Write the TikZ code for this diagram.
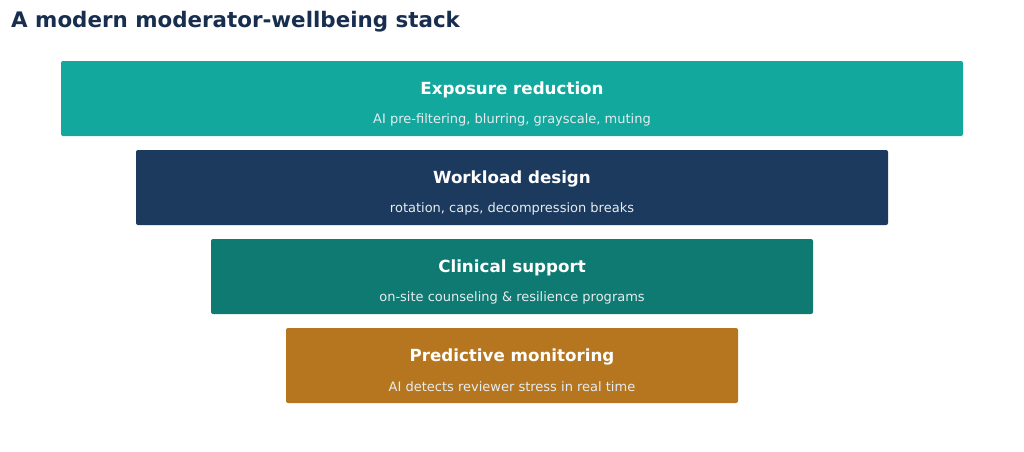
\documentclass[tikz,border=0pt]{standalone}
\usepackage{fontspec}
\setmainfont{DejaVu Sans}
\definecolor{titlec}{HTML}{172E4E}
\definecolor{c1}{HTML}{13A89E}
\definecolor{c2}{HTML}{1B3A5E}
\definecolor{c3}{HTML}{0F7A72}
\definecolor{c4}{HTML}{B5761F}
\definecolor{subc}{HTML}{E6ECEF}
\begin{document}
\begin{tikzpicture}[x=1pt,y=-1pt,
  layer/.style={rounded corners=2pt, draw=none},
  head/.style={text=white, font=\fontsize{16.7}{20}\selectfont\bfseries, anchor=center, inner sep=0pt},
  sub/.style={text=subc, font=\fontsize{13}{15}\selectfont, anchor=center, inner sep=0pt}]
\useasboundingbox (0,0) rectangle (1024,451);
\node[anchor=base west, inner sep=0pt, text=titlec, font=\fontsize{21.4}{25}\selectfont\bfseries] (title) at (11,27.5) {A modern moderator-wellbeing stack};
\fill[layer, c1] (61,61) rectangle (963,136);
\fill[layer, c2] (136,150) rectangle (888,225);
\fill[layer, c3] (211,239) rectangle (813,314);
\fill[layer, c4] (286,328) rectangle (738,403);
\node[head] (h1) at (512,89.5) {Exposure reduction};
\node[sub] (s1) at (512,119.5) {AI pre-filtering, blurring, grayscale, muting};
\node[head] (h2) at (512,178.5) {Workload design};
\node[sub] (s2) at (512,208.5) {rotation, caps, decompression breaks};
\node[head] (h3) at (512,267.5) {Clinical support};
\node[sub] (s3) at (512,297.5) {on-site counseling \& resilience programs};
\node[head] (h4) at (512,356.5) {Predictive monitoring};
\node[sub] (s4) at (512,386.5) {AI detects reviewer stress in real time};
\end{tikzpicture}
\end{document}
